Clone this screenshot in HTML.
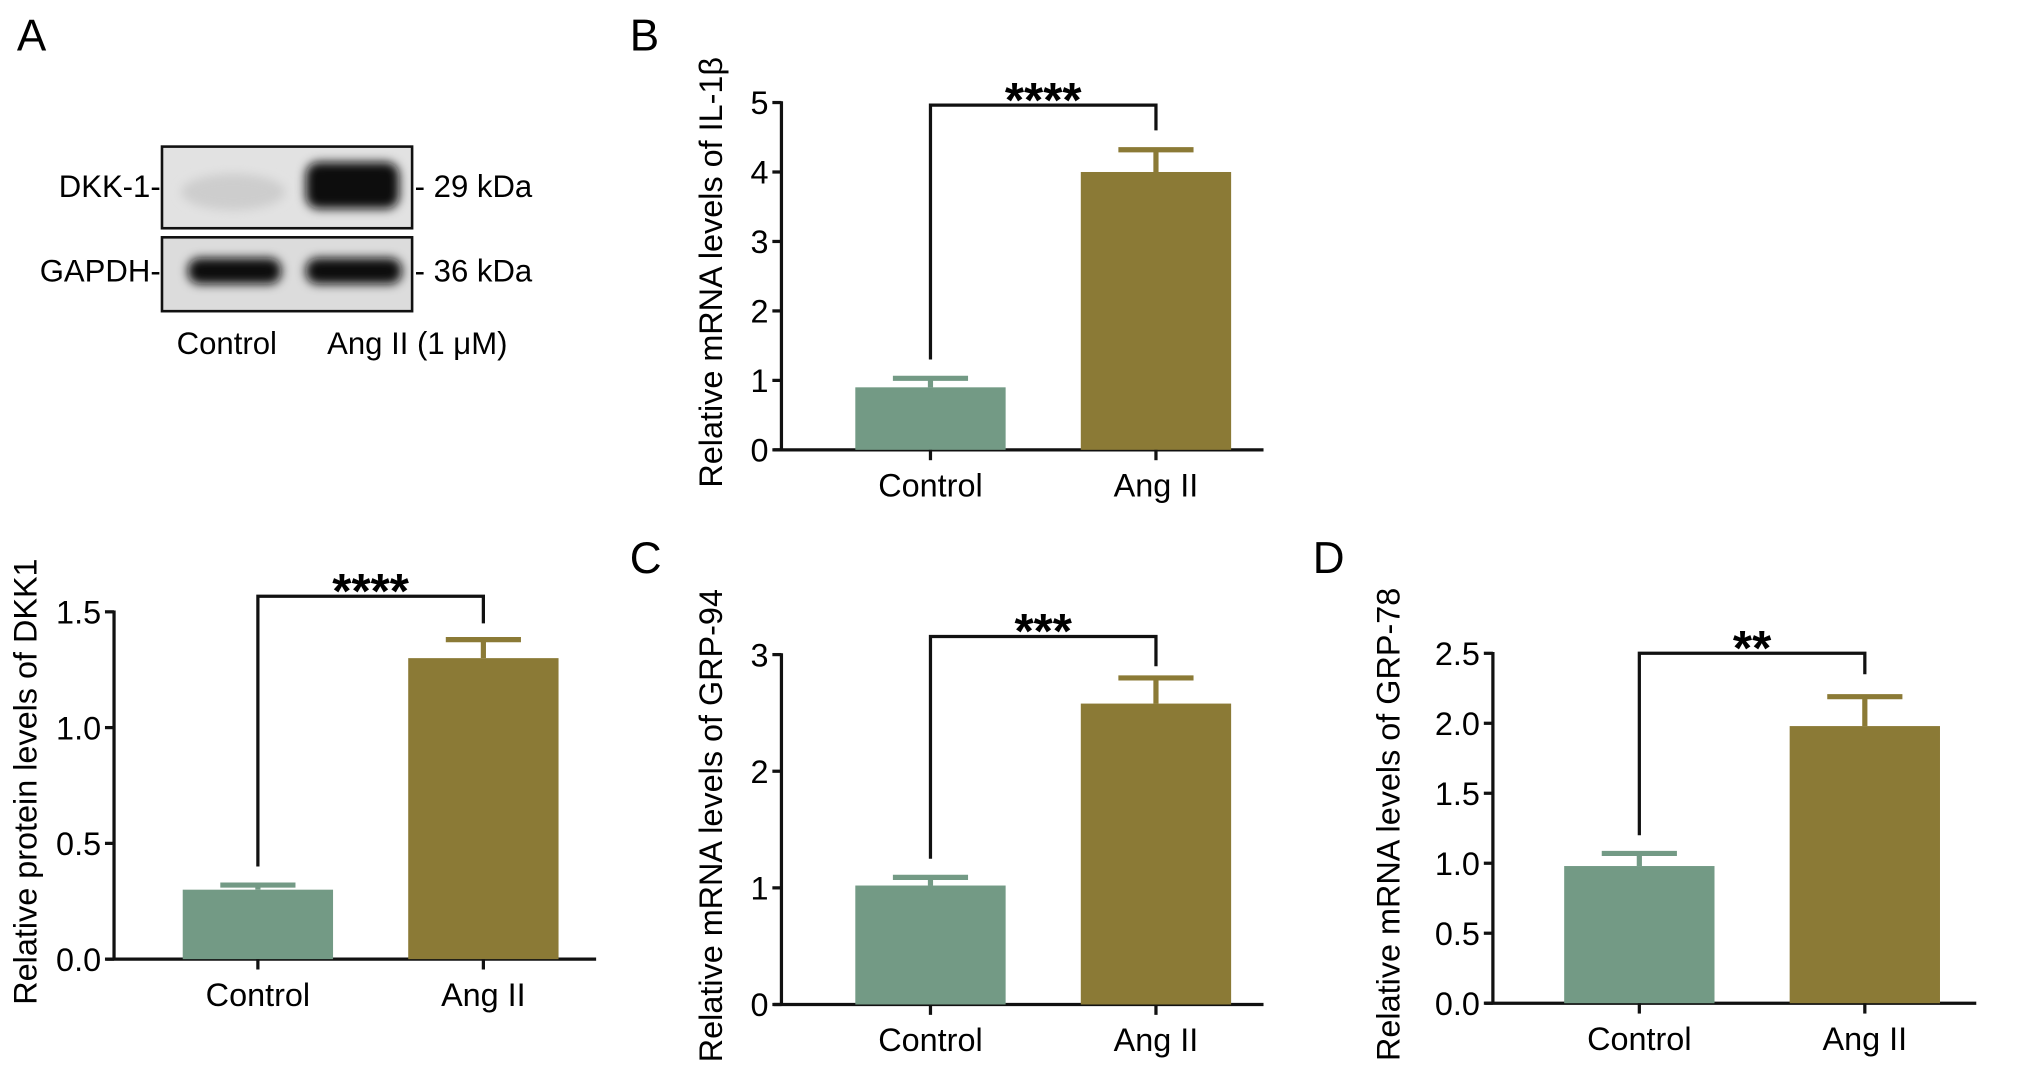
<!DOCTYPE html>
<html><head><meta charset="utf-8"><style>
html,body{margin:0;padding:0;background:#fff;}
svg{display:block;font-family:"Liberation Sans",sans-serif;}
</style></head><body>
<svg id="fig" width="2032" height="1085" viewBox="0 0 1568 837" xmlns="http://www.w3.org/2000/svg">
<defs>
<filter id="blur" x="-30%" y="-50%" width="160%" height="200%"><feGaussianBlur stdDeviation="4"/></filter>
</defs>
<text x="13" y="39" font-size="34">A</text>
<text x="486" y="39" font-size="34">B</text>
<text x="486" y="442" font-size="34">C</text>
<text x="1013" y="442" font-size="34">D</text>
<g>
  <rect x="125" y="113" width="193" height="63" fill="#e2e2e2" stroke="#111" stroke-width="2"/>
  <rect x="125" y="183" width="193" height="57" fill="#dcdcdc" stroke="#111" stroke-width="2"/>
  <ellipse cx="180" cy="148" rx="40" ry="14" fill="#cdcdcd" filter="url(#blur)"/>
  <rect x="236" y="125" width="72" height="36" rx="10" fill="#080808" filter="url(#blur)"/>
  <rect x="145" y="199" width="72" height="20" rx="9" fill="#0a0a0a" filter="url(#blur)"/>
  <rect x="236" y="199" width="74" height="20" rx="9" fill="#0a0a0a" filter="url(#blur)"/>
  <text x="124" y="152" font-size="24" text-anchor="end">DKK-1-</text>
  <text x="124" y="217" font-size="24" text-anchor="end">GAPDH-</text>
  <text x="320" y="152" font-size="24">- 29 kDa</text>
  <text x="320" y="217" font-size="24">- 36 kDa</text>
  <text x="175" y="273" font-size="24" text-anchor="middle">Control</text>
  <text x="322" y="273" font-size="24" text-anchor="middle">Ang II (1 μM)</text>
</g>
<g id="charts"></g>
</svg>
<script>
// Panel A (bottom left): relative protein levels of DKK1
const catsA = ["Control", "Ang II"];
const valsA = [0.30, 1.30];
const errsA = [0.02, 0.08];
const ticksA = ["0.0", "0.5", "1.0", "1.5"];
const tickValsA = [0, 0.5, 1.0, 1.5];
const sigA = "****";
const legsA = [0.4, 1.45];
// Panel B: IL-1β
const catsB = ["Control", "Ang II"];
const valsB = [0.9, 4.0];
const errsB = [0.13, 0.32];
const ticksB = ["0", "1", "2", "3", "4", "5"];
const tickValsB = [0, 1, 2, 3, 4, 5];
const sigB = "****";
const legsB = [1.3, 4.6];
// Panel C: GRP-94
const catsC = ["Control", "Ang II"];
const valsC = [1.02, 2.58];
const errsC = [0.07, 0.22];
const ticksC = ["0", "1", "2", "3"];
const tickValsC = [0, 1, 2, 3];
const sigC = "***";
const legsC = [1.25, 2.9];
// Panel D: GRP-78
const catsD = ["Control", "Ang II"];
const valsD = [0.98, 1.98];
const errsD = [0.09, 0.21];
const ticksD = ["0.0", "0.5", "1.0", "1.5", "2.0", "2.5"];
const tickValsD = [0, 0.5, 1.0, 1.5, 2.0, 2.5];
const sigD = "**";
const legsD = [1.2, 2.35];

const NS = "http://www.w3.org/2000/svg";
const colors = ["#739a85", "#8b7a36"];
function mk(tag, attrs, parent){const e=document.createElementNS(NS,tag);for(const k in attrs)e.setAttribute(k,attrs[k]);parent.appendChild(e);return e;}

function drawChart(id, cfg, cats, vals, errs, ticks, tickVals, sig, legs, title){
  const g = mk("g", {}, document.getElementById("charts"));
  
  
  const yMax = tickVals[tickVals.length-1];
  const y = v => cfg.y0 - v/yMax*(cfg.y0-cfg.yTop);
  const xc = i => cfg.x0 + cfg.first + i*cfg.step;
  const ya = mk("line", {x1:cfg.x0,y1:cfg.yTop-1,x2:cfg.x0,y2:cfg.y0,stroke:"#111","stroke-width":2.5}, g);
  
  
  const xa = mk("line", {x1:cfg.x0-6,y1:cfg.y0,x2:cfg.xEnd,y2:cfg.y0,stroke:"#111","stroke-width":2.5}, g);
  
  
  tickVals.forEach((tv,i)=>{
    const t = mk("line",{x1:cfg.x0-7,y1:y(tv),x2:cfg.x0,y2:y(tv),stroke:"#111","stroke-width":2.5},g);
    
    
    const tl = mk("text",{x:cfg.x0-10,y:y(tv)+9,"font-size":25,"text-anchor":"end"},g);
    tl.textContent = ticks[i];
    
    
  });
  cats.forEach((c,i)=>{
    const cx = xc(i);
    const bar = mk("rect",{x:cx-58,y:y(vals[i]),width:116,height:cfg.y0-y(vals[i]),fill:colors[i]},g);
    
    
    const eb = mk("path",{d:`M${cx},${y(vals[i])} V${y(vals[i]+errs[i])} M${cx-29},${y(vals[i]+errs[i])} H${cx+29}`,stroke:colors[i],"stroke-width":4,fill:"none"},g);
    
    
    const tk = mk("line",{x1:cx,y1:cfg.y0,x2:cx,y2:cfg.y0+8,stroke:"#111","stroke-width":2.5},g);
    
    
    const lb = mk("text",{x:cx,y:cfg.y0+36,"font-size":25,"text-anchor":"middle"},g);
    lb.textContent = c;
    
    
  });
  const by = cfg.bracketY;
  const br = mk("path",{d:`M${xc(0)},${y(legs[0])} V${by} H${xc(1)} V${y(legs[1])}`,stroke:"#111","stroke-width":2.5,fill:"none"},g);
  
  
  const st = mk("text",{x:(xc(0)+xc(1))/2,y:by+9,"font-size":38,"font-weight":"bold","text-anchor":"middle"},g);
  st.textContent = sig;
  
  
  const yt = mk("text",{x:0,y:0,"font-size":25,"text-anchor":"middle",transform:`translate(${cfg.titleX},${(cfg.y0+cfg.yTop)/2 - 3}) rotate(-90)`},g);
  yt.textContent = title;
  
  
}
drawChart("chart-dkk1-protein",{x0:88,y0:740,yTop:472,xEnd:460,first:111,step:174,bracketY:460,titleX:28},catsA,valsA,errsA,ticksA,tickValsA,sigA,legsA,"Relative protein levels of DKK1");
drawChart("chart-il1b",{x0:603,y0:347,yTop:79,xEnd:975,first:115,step:174,bracketY:81,titleX:557},catsB,valsB,errsB,ticksB,tickValsB,sigB,legsB,"Relative mRNA levels of IL-1β");
drawChart("chart-grp94",{x0:603,y0:775,yTop:505,xEnd:975,first:115,step:174,bracketY:491,titleX:557},catsC,valsC,errsC,ticksC,tickValsC,sigC,legsC,"Relative mRNA levels of GRP-94");
drawChart("chart-grp78",{x0:1152,y0:774,yTop:504,xEnd:1525,first:113,step:174,bracketY:504,titleX:1080},catsD,valsD,errsD,ticksD,tickValsD,sigD,legsD,"Relative mRNA levels of GRP-78");
</script>
</body></html>
